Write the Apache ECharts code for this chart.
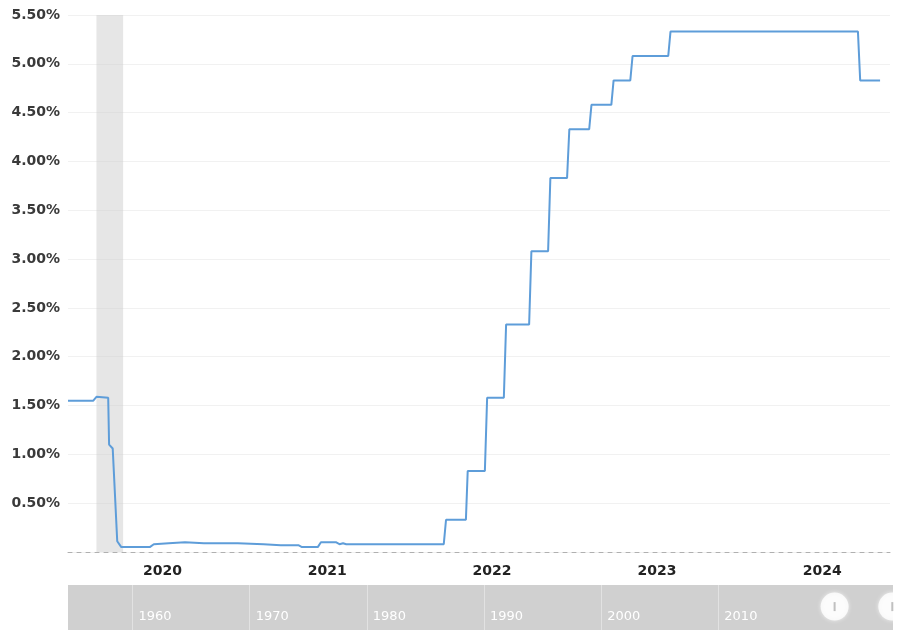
<!DOCTYPE html>
<html>
<head>
<meta charset="utf-8">
<title>Federal Funds Effective Rate</title>
<script src="https://cdn.jsdelivr.net/npm/echarts@6.0.0/dist/echarts.min.js"></script>
<style>
  html, body { margin: 0; padding: 0; background: #ffffff; }
  #chart { width: 919px; height: 630px; }
</style>
</head>
<body>
<div id="chart"></div>
<script>
// Effective federal funds rate (%), key turning points of the daily series
const rateDates = [
  '2019-12-05', '2020-01-30', '2020-02-06', '2020-03-03', '2020-03-05',
  '2020-03-13', '2020-03-23', '2020-04-01', '2020-06-03', '2020-06-12',
  '2020-07-15', '2020-08-20', '2020-10-01', '2020-12-15', '2021-02-10',
  '2021-03-20', '2021-04-28', '2021-05-06', '2021-06-10', '2021-06-17',
  '2021-07-20', '2021-07-28', '2021-08-05', '2021-08-12', '2022-03-16',
  '2022-03-21', '2022-05-04', '2022-05-08', '2022-06-15', '2022-06-20',
  '2022-07-27', '2022-08-01', '2022-09-21', '2022-09-26', '2022-11-02',
  '2022-11-07', '2022-12-14', '2022-12-19', '2023-02-01', '2023-02-06',
  '2023-03-22', '2023-03-27', '2023-05-03', '2023-05-08', '2023-07-26',
  '2023-07-31', '2024-09-18', '2024-09-23', '2024-11-06'
];
const rateValues = [
  1.55, 1.55, 1.59, 1.58, 1.10,
  1.06, 0.11, 0.05, 0.05, 0.08,
  0.09, 0.10, 0.09, 0.09, 0.08,
  0.07, 0.07, 0.05, 0.05, 0.10,
  0.10, 0.08, 0.09, 0.08, 0.08,
  0.33, 0.33, 0.83, 0.83, 1.58,
  1.58, 2.33, 2.33, 3.08, 3.08,
  3.83, 3.83, 4.33, 4.33, 4.58,
  4.58, 4.83, 4.83, 5.08, 5.08,
  5.33, 5.33, 4.83, 4.83
];

// Recession shading
const recessionStart = '2020-02-06';
const recessionEnd = '2020-04-05';

// Axis settings
const yearLabels = [2020, 2021, 2022, 2023, 2024];
const decadeLabels = [1960, 1970, 1980, 1990, 2000, 2010];
const axisEnd = '2024-11-28';
const historyStart = '1954-07-01';

const ts = s => {
  const p = s.split('-').map(Number);
  return Date.UTC(p[0], p[1] - 1, p[2]);
};

const seriesData = rateDates.map((d, i) => [ts(d), rateValues[i]]);
const yearTickValues = yearLabels.map(y => Date.UTC(y, 6, 1));
const decadeTickValues = decadeLabels.map(y => Date.UTC(y, 0, 1));
const rangeStart = ts(rateDates[0]);
const rangeEnd = ts(rateDates[rateDates.length - 1]);

const chart = echarts.init(document.getElementById('chart'), null, { renderer: 'canvas' });

chart.setOption({
  animation: false,
  backgroundColor: '#ffffff',
  grid: [
    { left: 68, right: 29, top: 15, bottom: 78, containLabel: false },
    { left: 68, right: 26, top: 585, height: 50, show: true,
      backgroundColor: '#d0d0d0', borderWidth: 0 }
  ],
  xAxis: [
    {
      type: 'value',
      gridIndex: 0,
      min: rangeStart,
      max: ts(axisEnd),
      axisLine: { show: true, lineStyle: { color: '#b0b0b0', width: 1, type: [4, 5] } },
      axisTick: { show: false },
      splitLine: { show: false },
      axisLabel: {
        customValues: yearTickValues,
        formatter: v => String(new Date(v).getUTCFullYear()),
        margin: 12,
        color: '#222',
        fontFamily: 'DejaVu Sans',
        fontWeight: 'bold',
        fontSize: 14
      }
    },
    {
      type: 'value',
      gridIndex: 1,
      min: ts(historyStart),
      max: ts(axisEnd),
      axisLine: { show: false },
      axisTick: { show: false },
      splitLine: { show: false },
      axisLabel: {
        customValues: decadeTickValues,
        formatter: v => String(new Date(v).getUTCFullYear()),
        inside: true,
        margin: 7,
        align: 'left',
        padding: [0, 0, 0, 6],
        color: '#ffffff',
        fontFamily: 'DejaVu Sans',
        fontSize: 13,
        verticalAlign: 'bottom'
      }
    }
  ],
  yAxis: [
    {
      type: 'value',
      gridIndex: 0,
      min: 0,
      max: 5.5,
      interval: 0.5,
      axisLine: { show: false },
      axisTick: { show: false },
      splitLine: { show: true, lineStyle: { color: '#f1f1f1', width: 1 } },
      axisLabel: {
        formatter: v => (v === 0 ? '' : v.toFixed(2) + '%'),
        margin: 8,
        color: '#3a3a3a',
        fontFamily: 'DejaVu Sans',
        fontWeight: 'bold',
        fontSize: 14
      }
    },
    {
      type: 'value',
      gridIndex: 1,
      min: 0,
      max: 1,
      show: false
    }
  ],
  series: [
    {
      name: 'Federal Funds Rate',
      type: 'line',
      xAxisIndex: 0,
      yAxisIndex: 0,
      data: seriesData,
      showSymbol: false,
      lineStyle: { color: '#5e9dd9', width: 2 },
      z: 3,
      markArea: {
        silent: true,
        itemStyle: { color: 'rgba(205,205,205,0.5)' },
        data: [[{ xAxis: ts(recessionStart) }, { xAxis: ts(recessionEnd) }]]
      }
    },
    {
      // decade grid lines of the range selector
      type: 'line',
      xAxisIndex: 1,
      yAxisIndex: 1,
      data: [],
      markLine: {
        silent: true,
        symbol: 'none',
        label: { show: false },
        lineStyle: { color: '#e2e2e2', width: 1, type: 'solid' },
        data: decadeTickValues.map(v => ({ xAxis: v }))
      }
    },
    {
      // range selector handles at the ends of the plotted range
      type: 'scatter',
      xAxisIndex: 1,
      yAxisIndex: 1,
      data: [[rangeStart, 0.52], [rangeEnd, 0.52]],
      symbol: 'circle',
      symbolSize: 28,
      itemStyle: { color: '#ffffff', shadowColor: 'rgba(255,255,255,0.8)', shadowBlur: 4 },
      z: 5
    },
    {
      type: 'scatter',
      xAxisIndex: 1,
      yAxisIndex: 1,
      data: [[rangeStart, 0.52], [rangeEnd, 0.52]],
      symbol: 'rect',
      symbolSize: [2, 9],
      itemStyle: { color: '#b0b0b0' },
      z: 6
    }
  ]
});
</script>
</body>
</html>
